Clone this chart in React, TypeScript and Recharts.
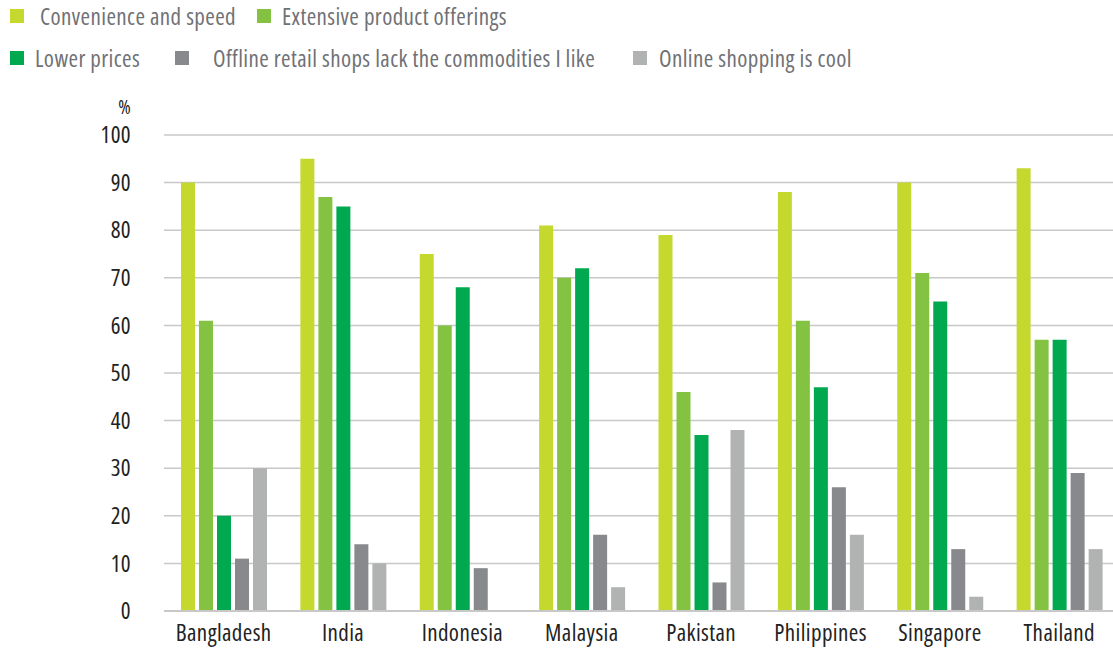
import React from "react";
import { BarChart, Bar, XAxis, YAxis, CartesianGrid } from "recharts";

const countries = ["Bangladesh", "India", "Indonesia", "Malaysia", "Pakistan", "Philippines", "Singapore", "Thailand"];
const convenience = [90, 95, 75, 81, 79, 88, 90, 93];
const extensive = [61, 87, 60, 70, 46, 61, 71, 57];
const lowerPrices = [20, 85, 68, 72, 37, 47, 65, 57];
const offlineLack = [11, 14, 9, 16, 6, 26, 13, 29];
const onlineCool = [30, 10, 0, 5, 38, 16, 3, 13];
const yTicks = [0, 10, 20, 30, 40, 50, 60, 70, 80, 90, 100];

const series = [
  { key: "convenience", name: "Convenience and speed", color: "#c4d82e" },
  { key: "extensive", name: "Extensive product offerings", color: "#84c341" },
  { key: "lower", name: "Lower prices", color: "#00a84f" },
  { key: "offline", name: "Offline retail shops lack the commodities I like", color: "#87898c" },
  { key: "online", name: "Online shopping is cool", color: "#b1b3b3" },
];

const data = countries.map((c, i) => ({
  country: c,
  convenience: convenience[i],
  extensive: extensive[i],
  lower: lowerPrices[i],
  offline: offlineLack[i],
  online: onlineCool[i],
}));

const font = "'Open Sans', sans-serif";
const textStyle = { fontFamily: font, fontStretch: "condensed", letterSpacing: "0.4px" } as const;

// legend rows as in the original, two items on top, three below
const legendRows = [
  [{ i: 0, left: 10, textLeft: 40 }, { i: 1, left: 257, textLeft: 282 }],
  [{ i: 2, left: 10, textLeft: 35 }, { i: 3, left: 175, textLeft: 213 }, { i: 4, left: 633, textLeft: 659 }],
];

function TopLegend() {
  return (
    <div style={{ position: "absolute", left: 0, top: 0, width: 1113, height: 80, ...textStyle }}>
      {legendRows.map((row, r) =>
        row.map((it) => (
          <React.Fragment key={it.i}>
            <div
              style={{
                position: "absolute",
                left: it.left,
                top: 9 + r * 42,
                width: 14,
                height: 14,
                background: series[it.i].color,
              }}
            />
            <div
              style={{
                position: "absolute",
                left: it.textLeft,
                top: 1 + r * 42,
                fontSize: 23,
                lineHeight: "30px",
                color: "#707175",
                whiteSpace: "nowrap",
              }}
            >
              {series[it.i].name}
            </div>
          </React.Fragment>
        ))
      )}
    </div>
  );
}

export default function App() {
  return (
    <div style={{ position: "absolute", left: 0, top: 0, width: 1113, height: 654, background: "#fff" }}>
      <BarChart
        width={1113}
        height={654}
        data={data}
        margin={{ top: 135, right: -6, left: 0, bottom: 0 }}
        barCategoryGap={17}
        barGap={4}
        style={textStyle}
      >
        <CartesianGrid vertical={false} stroke="#c8c8c8" strokeWidth={1.5} />
        <XAxis
          dataKey="country"
          height={43}
          tickLine={false}
          tickSize={0}
          tickMargin={14}
          axisLine={{ stroke: "#c8c8c8", strokeWidth: 2 }}
          tick={{ fill: "#222", fontSize: 23 }}
          interval={0}
        />
        <YAxis
          width={164}
          domain={[0, 100]}
          ticks={yTicks}
          axisLine={false}
          tickLine={false}
          tickSize={0}
          tickMargin={33}
          tick={{ fill: "#222", fontSize: 23 }}
          label={{
            content: ({ viewBox }: any) => (
              <text x={viewBox.x + viewBox.width - 33} y={viewBox.y - 21} textAnchor="end" fill="#222" fontSize={19}>
                %
              </text>
            ),
          }}
        />
        {series.map((s) => (
          <Bar key={s.key} dataKey={s.key} name={s.name} fill={s.color} isAnimationActive={false} />
        ))}
      </BarChart>
      <TopLegend />
    </div>
  );
}
